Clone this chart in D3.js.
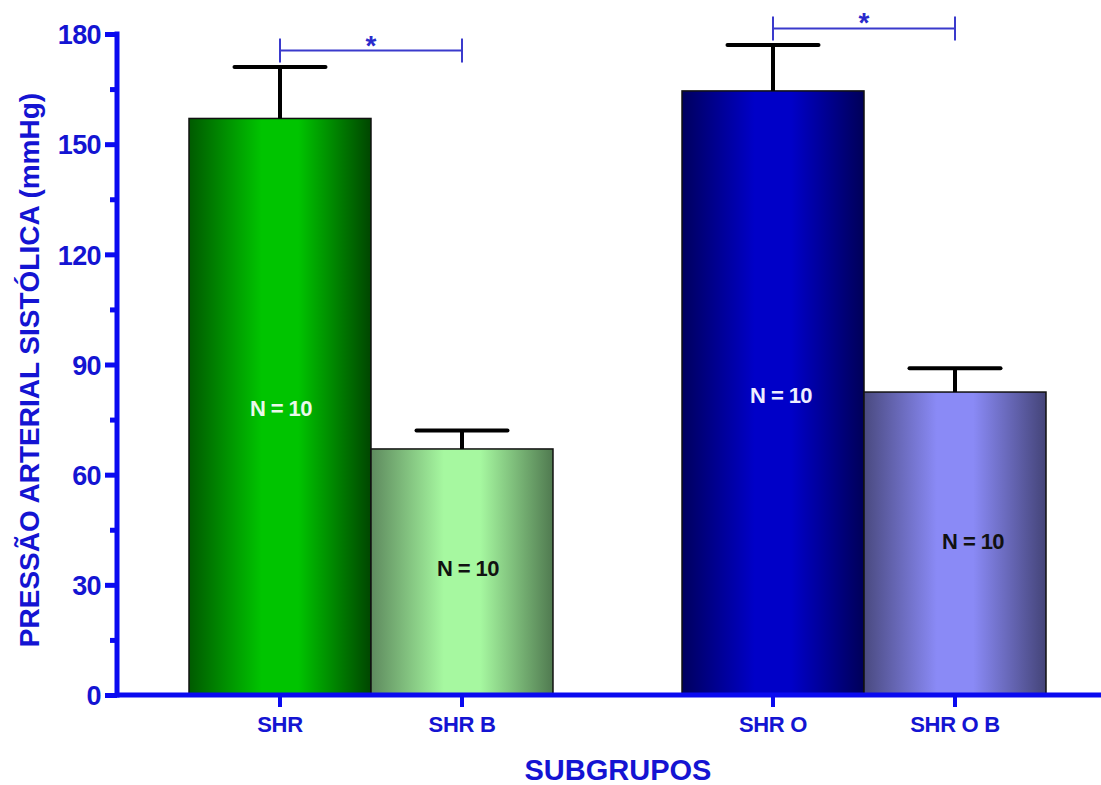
<!DOCTYPE html>
<html><head><meta charset="utf-8">
<script src="https://cdn.jsdelivr.net/npm/d3@7"></script>
<style>body{margin:0;background:#fff}svg{display:block}</style>
</head><body>
<script>
const categories = ["SHR", "SHR B", "SHR O", "SHR O B"];
const means = [157, 67, 164.5, 82.5];
const errors = [14, 5, 12.5, 6.5];
const nLabels = ["N = 10", "N = 10", "N = 10", "N = 10"];
const nLabelValues = [77.6, 34, 81, 41.4];
const yTicks = [0, 30, 60, 90, 120, 150, 180];
const yMinorTicks = [15, 45, 75, 105, 135, 165];
const brackets = [{from: "SHR", to: "SHR B", value: 175.5, label: "*"}, {from: "SHR O", to: "SHR O B", value: 181.5, label: "*"}];

const W = 1101, H = 785;
const svg = d3.select("body").append("svg").attr("width", W).attr("height", H);
const defs = svg.append("defs");
const grads = [
  ["g0", "#005a00", "#00c400", "#004600"],
  ["g1", "#5e8a5e", "#a6f8a0", "#507a50"],
  ["g2", "#00005e", "#0000c8", "#000058"],
  ["g3", "#4a4a80", "#8a8af6", "#444478"]
];
grads.forEach(([id, a, b, c]) => {
  const g = defs.append("linearGradient").attr("id", id).attr("x1", "0").attr("x2", "1").attr("y1", "0").attr("y2", "0");
  g.append("stop").attr("offset", "0").attr("stop-color", a);
  g.append("stop").attr("offset", "0.4").attr("stop-color", b);
  g.append("stop").attr("offset", "0.6").attr("stop-color", b);
  g.append("stop").attr("offset", "1").attr("stop-color", c);
});

const font = "Liberation Sans, Arial, sans-serif";
const y = d3.scaleLinear().domain([0, 180]).range([695, 34]);
const xGroup = d3.scaleBand().domain(["A", "B"]).range([189, 1046]).paddingInner(0.2617);
const groupOf = c => (c === "SHR" || c === "SHR B") ? "A" : "B";
const xInner = d3.scaleBand().domain([0, 1]).range([0, xGroup.bandwidth()]);
const barX = (c, i) => xGroup(groupOf(c)) + xInner(i % 2);
const bw = xInner.bandwidth();
const cx = (c, i) => barX(c, i) + bw / 2;

const blue = "#0a0af0", textBlue = "#1414d2";

// bars
svg.selectAll("rect.bar").data(categories).join("rect")
  .attr("x", (c, i) => barX(c, i)).attr("width", bw)
  .attr("y", (c, i) => y(means[i])).attr("height", (c, i) => y(0) - y(means[i]))
  .attr("fill", (c, i) => `url(#g${i})`).attr("stroke", "#111").attr("stroke-width", 1.5);

// error bars
categories.forEach((c, i) => {
  const x0 = cx(c, i);
  svg.append("line").attr("x1", x0).attr("x2", x0).attr("y1", y(means[i])).attr("y2", y(means[i] + errors[i]))
    .attr("stroke", "#000").attr("stroke-width", 4);
  svg.append("line").attr("x1", x0 - bw * 0.25).attr("x2", x0 + bw * 0.25)
    .attr("y1", y(means[i] + errors[i])).attr("y2", y(means[i] + errors[i]))
    .attr("stroke", "#000").attr("stroke-width", 4).attr("stroke-linecap", "round");
});

// N labels
const nOffsets = [1, 6, 8, 18];
svg.selectAll("text.n").data(categories).join("text")
  .attr("x", (c, i) => cx(c, i) + nOffsets[i]).attr("y", (c, i) => y(nLabelValues[i]))
  .attr("text-anchor", "middle").attr("dominant-baseline", "middle")
  .attr("font-family", font).attr("font-weight", "bold")
  .attr("font-size", 22).attr("letter-spacing", -0.6)
  .attr("fill", (c, i) => i === 0 ? "#eaf8ea" : i === 2 ? "#eeeeff" : "#111")
  .text((c, i) => nLabels[i]);

// significance brackets
brackets.forEach(b => {
  const i1 = categories.indexOf(b.from), i2 = categories.indexOf(b.to);
  const x1 = cx(b.from, i1), x2 = cx(b.to, i2), yy = y(b.value);
  const g = svg.append("g").attr("stroke", "#3a3acc").attr("stroke-width", 2);
  g.append("line").attr("x1", x1).attr("x2", x2).attr("y1", yy).attr("y2", yy);
  g.append("line").attr("x1", x1).attr("x2", x1).attr("y1", yy - 12).attr("y2", yy + 12);
  g.append("line").attr("x1", x2).attr("x2", x2).attr("y1", yy - 12).attr("y2", yy + 12);
  svg.append("text").attr("x", (x1 + x2) / 2).attr("y", yy + 4).attr("text-anchor", "middle")
    .attr("font-family", font).attr("font-weight", "bold")
    .attr("font-size", 28).attr("fill", "#2a2acc").text(b.label);
});

// y axis
const yAxis = d3.axisLeft(y).tickValues(yTicks).tickSize(12).tickFormat(d3.format("d"));
const ya = svg.append("g").attr("transform", "translate(117,0)").call(yAxis);
ya.select(".domain").remove();
ya.selectAll(".tick line").attr("stroke", blue).attr("stroke-width", 5);
ya.selectAll(".tick text").attr("fill", textBlue).attr("font-family", font)
  .attr("font-weight", "bold").attr("font-size", 27).attr("letter-spacing", -0.6).attr("x", -16).attr("dy", "0.36em");
const yMinor = svg.append("g").attr("transform", "translate(117,0)")
  .call(d3.axisLeft(y).tickValues(yMinorTicks).tickSize(7).tickFormat(""));
yMinor.select(".domain").remove();
yMinor.selectAll(".tick line").attr("stroke", blue).attr("stroke-width", 5);
svg.append("line").attr("x1", 117).attr("x2", 117).attr("y1", y(180) - 2.5).attr("y2", y(0) + 2.5)
  .attr("stroke", blue).attr("stroke-width", 5);

// x axis
svg.append("line").attr("x1", 115).attr("x2", W).attr("y1", y(0)).attr("y2", y(0))
  .attr("stroke", blue).attr("stroke-width", 5);
const xa = svg.append("g");
categories.forEach((c, i) => {
  xa.append("line").attr("x1", cx(c, i)).attr("x2", cx(c, i)).attr("y1", y(0)).attr("y2", y(0) + 12)
    .attr("stroke", blue).attr("stroke-width", 4);
  xa.append("text").attr("x", cx(c, i)).attr("y", 732).attr("text-anchor", "middle")
    .attr("font-family", font).attr("font-weight", "bold")
    .attr("font-size", 22).attr("letter-spacing", -0.3).attr("fill", textBlue).text(c);
});

// titles
svg.append("text").attr("x", 618).attr("y", 780).attr("text-anchor", "middle")
  .attr("font-family", font).attr("font-weight", "bold")
  .attr("font-size", 29).attr("fill", textBlue).text("SUBGRUPOS");
svg.append("text").attr("transform", "translate(39,370) rotate(-90)").attr("text-anchor", "middle")
  .attr("font-family", font).attr("font-weight", "bold")
  .attr("font-size", 28).attr("fill", textBlue).text("PRESSÃO ARTERIAL SISTÓLICA (mmHg)");
</script>
</body></html>
